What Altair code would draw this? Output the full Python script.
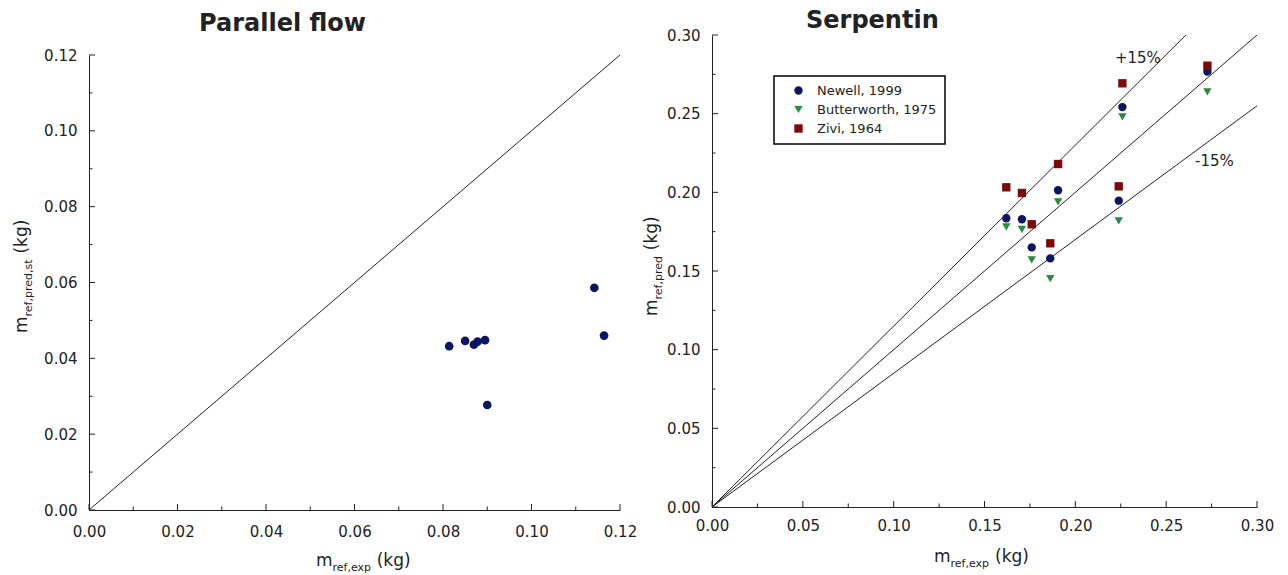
import altair as alt
import pandas as pd

FONT = "DejaVu Sans"
AX = "#222222"

# ---------------- data ----------------
# Parallel flow
pf_exp = [0.0814, 0.0850, 0.0870, 0.0878, 0.0895, 0.0900, 0.1142, 0.1164]
pf_pred = [0.0432, 0.0446, 0.0436, 0.0444, 0.0448, 0.0277, 0.0586, 0.0460]

# Serpentin
sp_exp = [0.162, 0.1706, 0.176, 0.1862, 0.1905, 0.2239, 0.2259, 0.2727]
newell = [0.1835, 0.1829, 0.165, 0.158, 0.2013, 0.1947, 0.2542, 0.2767]
butterworth = [0.178, 0.1765, 0.157, 0.1451, 0.194, 0.1818, 0.248, 0.2638]
zivi = [0.2032, 0.1996, 0.1797, 0.1676, 0.218, 0.2038, 0.2693, 0.2805]

series_names = ["Newell, 1999", "Butterworth, 1975", "Zivi, 1964"]
series_colors = ["#0b1660", "#2a8a3e", "#7d0a0a"]
series_shapes = ["circle", "triangle-down", "square"]

ref_slopes = [1.15, 1.0, 0.85]
ref_labels = ["+15%", "-15%"]
ref_label_x = [0.2218, 0.2659]
ref_label_y = [0.2822, 0.2167]

left_major = [0.0, 0.02, 0.04, 0.06, 0.08, 0.10, 0.12]
left_minor = [0.01, 0.03, 0.05, 0.07, 0.09, 0.11]
right_major = [0.0, 0.05, 0.10, 0.15, 0.20, 0.25, 0.30]
right_minor = [0.025, 0.075, 0.125, 0.175, 0.225, 0.275]

# ---------------- tables ----------------
left_df = pd.DataFrame({"exp": pf_exp, "pred": pf_pred})
left_diag = pd.DataFrame({"exp": [0.0, 0.12], "pred": [0.0, 0.12]})

rows = []
for name, vals in zip(series_names, [newell, butterworth, zivi]):
    for e, p in zip(sp_exp, vals):
        rows.append({"exp": e, "pred": p, "series": name})
right_df = pd.DataFrame(rows)

lrows = []
for s in ref_slopes:
    for xv in [0.0, 0.30]:
        lrows.append({"exp": xv, "pred": s * xv, "line": str(s)})
right_lines = pd.DataFrame(lrows)
right_lbl = pd.DataFrame({"exp": ref_label_x, "pred": ref_label_y, "t": ref_labels})

one = pd.DataFrame({"a": [0]})

# left panel: group is 475 tall (shares its top with the right panel), y range 20..475
LW, LH, LTOP = 531, 475, 20
RW, RH = 545, 472


def make_axis(values, pad):
    return alt.Axis(values=values, format=".2f", ticks=False, tickSize=0, grid=False,
                    domainColor=AX, domainWidth=1, labelFont=FONT, labelFontSize=15,
                    labelColor=AX, labelPadding=pad, title=None, labelFlush=False,
                    labelOverlap=False)


def piece(text, x, y, size, dx=0, dy=0, angle=0, weight="normal", baseline="alphabetic"):
    return alt.Chart(one).mark_text(
        text=text, font=FONT, fontSize=size, fontWeight=weight, align="left",
        baseline=baseline, dx=dx, dy=dy, angle=angle, color=AX
    ).encode(x=alt.value(x), y=alt.value(y))


def ticks(vals, xs, ys, xax, yax, H, major):
    L = 6 if major else 3.5
    d = pd.DataFrame({"v": vals})
    xt = alt.Chart(d).mark_rule(color=AX, strokeWidth=1).encode(
        x=alt.X("v:Q", scale=xs, axis=xax), y=alt.value(H), y2=alt.value(H - L))
    yt = alt.Chart(d).mark_rule(color=AX, strokeWidth=1).encode(
        y=alt.Y("v:Q", scale=ys, axis=yax), x=alt.value(0), x2=alt.value(L))
    return [xt, yt]


# ---------------- left panel ----------------
xs_l = alt.Scale(domain=[0, 0.12], nice=False)
ys_l = alt.Scale(domain=[0, 0.12], nice=False, range=[LH, LTOP])
xax_l = make_axis(left_major, 14)
yax_l = make_axis(left_major, 12)

l_pts = alt.Chart(left_df).mark_circle(size=75, color=series_colors[0], opacity=1).encode(
    x=alt.X("exp:Q", scale=xs_l, axis=xax_l), y=alt.Y("pred:Q", scale=ys_l, axis=yax_l))
l_line = alt.Chart(left_diag).mark_line(color=AX, strokeWidth=1).encode(
    x=alt.X("exp:Q", scale=xs_l, axis=xax_l), y=alt.Y("pred:Q", scale=ys_l, axis=yax_l))

left = alt.layer(
    l_line, l_pts,
    *ticks(left_major, xs_l, ys_l, xax_l, yax_l, LH, True),
    *ticks(left_minor, xs_l, ys_l, xax_l, yax_l, LH, False),
    piece("Parallel flow", 110, -23.5, 24, weight="bold", baseline="top"),
    piece("m", 227, 531, 17),
    piece("ref,exp", 227, 531, 11, dx=16.5, dy=5),
    piece("(kg)", 227, 531, 17, dx=60.7),
    piece("m", -62, 298, 17, angle=270),
    piece("ref,pred,st", -62, 298, 11, dx=16.5, dy=5, angle=270),
    piece("(kg)", -62, 298, 17, dx=79.4, angle=270),
).properties(width=LW, height=LH)

# ---------------- right panel ----------------
xs_r = alt.Scale(domain=[0, 0.30], nice=False)
ys_r = alt.Scale(domain=[0, 0.30], nice=False)
xax_r = make_axis(right_major, 11)
yax_r = make_axis(right_major, 12)

# legend coordinates are relative to the first panel's origin
leg = alt.Legend(orient="none", legendX=685, legendY=41, title=None, strokeColor="black",
                 fillColor="white", padding=8, symbolOffset=10, labelOffset=12,
                 labelFont=FONT, labelFontSize=13, labelColor=AX, symbolSize=70,
                 symbolStrokeWidth=0, rowPadding=5)

r_lines = alt.Chart(right_lines).mark_line(color=AX, strokeWidth=1, clip=True).encode(
    x=alt.X("exp:Q", scale=xs_r, axis=xax_r), y=alt.Y("pred:Q", scale=ys_r, axis=yax_r),
    detail="line:N")
r_pts = alt.Chart(right_df).mark_point(filled=True, size=70, opacity=1).encode(
    x=alt.X("exp:Q", scale=xs_r, axis=xax_r), y=alt.Y("pred:Q", scale=ys_r, axis=yax_r),
    color=alt.Color("series:N", scale=alt.Scale(domain=series_names, range=series_colors), legend=leg),
    shape=alt.Shape("series:N", scale=alt.Scale(domain=series_names, range=series_shapes), legend=leg),
)
r_txt = alt.Chart(right_lbl).mark_text(font=FONT, fontSize=15, align="left",
                                       baseline="alphabetic", color=AX).encode(
    x=alt.X("exp:Q", scale=xs_r, axis=xax_r), y=alt.Y("pred:Q", scale=ys_r, axis=yax_r), text="t:N")

right = alt.layer(
    r_lines, r_pts, r_txt,
    *ticks(right_major, xs_r, ys_r, xax_r, yax_r, RH, True),
    *ticks(right_minor, xs_r, ys_r, xax_r, yax_r, RH, False),
    piece("Serpentin", 94, -26.5, 24, weight="bold", baseline="top"),
    piece("m", 222, 527, 17),
    piece("ref,exp", 222, 527, 11, dx=16.5, dy=5),
    piece("(kg)", 222, 527, 17, dx=61),
    piece("m", -55, 281, 17, angle=270),
    piece("ref,pred", -55, 281, 11, dx=16.5, dy=5, angle=270),
    piece("(kg)", -55, 281, 17, dx=65.8, angle=270),
).properties(width=RW, height=RH)

chart = alt.hconcat(left, right, spacing=6).properties(
    padding={"left": 13, "top": 8, "right": 5, "bottom": 0},
    background="white",
).configure_view(stroke=None).configure_legend(strokeWidth=1.5)

chart.save("out.html", embed_options={"renderer": "svg", "actions": False})
